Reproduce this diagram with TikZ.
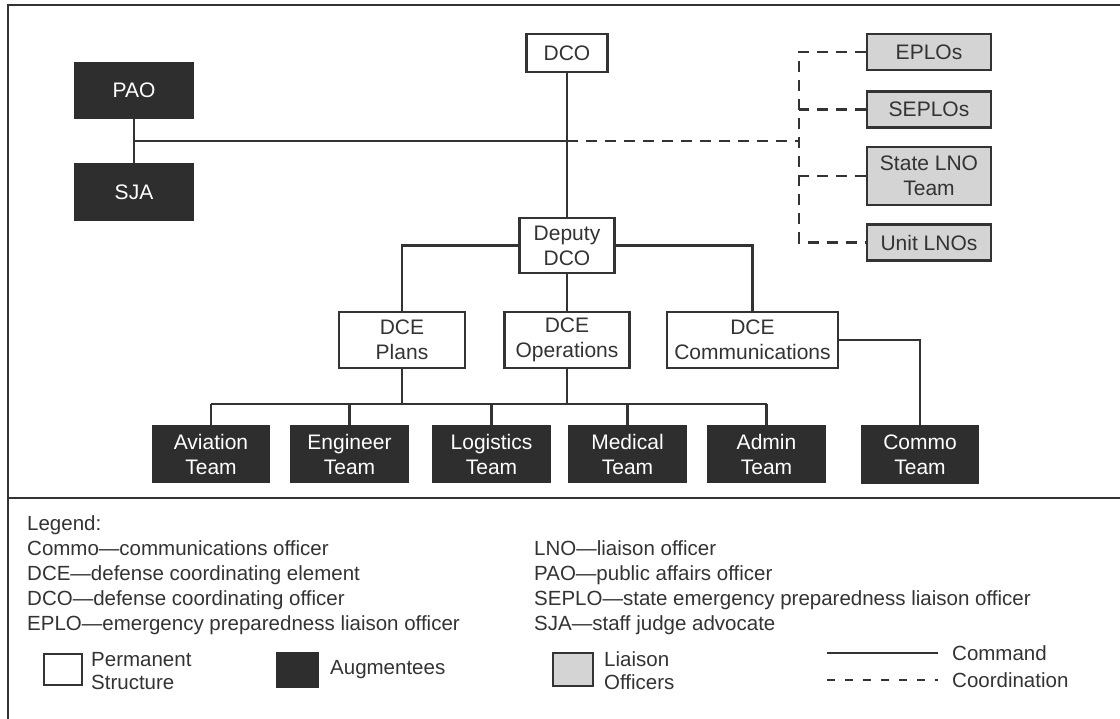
\documentclass[tikz,border=0pt]{standalone}
\usepackage{fontspec}
\setmainfont{Liberation Sans}
\usetikzlibrary{positioning}
\definecolor{ink}{HTML}{333333}
\definecolor{augfill}{HTML}{2E2E2E}
\definecolor{liafill}{HTML}{D4D4D4}
\begin{document}
\begin{tikzpicture}[x=1pt,y=-1pt,
	box/.style={draw=ink,line width=2.8pt,align=center,inner sep=0pt,text=ink,font=\fontsize{21}{25}\selectfont},
	perm/.style={box,fill=white},
	augm/.style={box,fill=augfill,draw=augfill,text=white},
	team/.style={augm,minimum width=116pt,minimum height=56pt},
	liai/.style={box,fill=liafill,minimum width=124pt,minimum height=36pt},
	cmd/.style={draw=ink,line width=2.8pt},
	coord/.style={draw=ink,line width=2.8pt,dash pattern=on 11pt off 8pt},
	legtext/.style={text=ink,font=\fontsize{20.5}{23}\selectfont,align=left,inner sep=0pt}]
	\useasboundingbox (0,0) rectangle (1120,719);
	\draw[ink,line width=2.4pt] (1120,5) -- (8,5) -- (8,719);
	\draw[ink,line width=2.4pt] (8,498) -- (1120,498);

	\node[perm,minimum width=81pt,minimum height=38pt] (dco) at (567,53) {DCO};
	\node[augm,minimum width=117pt,minimum height=55pt] (pao) at (134,90.5) {PAO};
	\node[augm,minimum width=117pt,minimum height=56pt] (sja) at (134,192) {SJA};
	\node[perm,minimum width=95pt,minimum height=55pt] (deputy) at (567,245.5) {Deputy\\DCO};
	\node[perm,minimum width=126pt,minimum height=56pt] (plans) at (402,340) {DCE\\Plans};
	\node[perm,minimum width=125pt,minimum height=56pt] (ops) at (567,340) {DCE\\Operations};
	\node[perm,minimum width=171pt,minimum height=56pt] (comms) at (752.5,340) {DCE\\Communications};

	\node[team] (aviation) at (211,454) {Aviation\\Team};
	\node[team] (engineer) at (349.5,454) {Engineer\\Team};
	\node[team] (logistics) at (491.5,454) {Logistics\\Team};
	\node[team] (medical) at (627.5,454) {Medical\\Team};
	\node[team] (admin) at (766.5,454) {Admin\\Team};
	\node[team] (commo) at (920,454.5) {Commo\\Team};

	\node[liai] (eplo) at (929,52) {EPLOs};
	\node[liai] (seplo) at (929,109.5) {SEPLOs};
	\node[liai,minimum height=58pt] (stlno) at (929,176) {State LNO\\Team};
	\node[liai] (unitlno) at (929,242.5) {Unit LNOs};

	\coordinate (cross) at (567,141);
	\coordinate (lbus) at (799,141);
	\coordinate (tbus) at (0,404);

	\draw[cmd] (pao) -- (sja);
	\draw[cmd] (dco) -- (deputy);
	\draw[cmd] (pao.south |- cross) -- (cross);
	\draw[coord] (cross) -- (lbus);
	\draw[coord] (eplo.west) -| (lbus) |- (unitlno.west);
	\draw[coord] (seplo.west) -- (seplo.west -| lbus);
	\draw[coord] (stlno.west) -- (stlno.west -| lbus);

	\draw[cmd] (deputy.west) -| (plans.north);
	\draw[cmd] (deputy.east) -| (comms.north);
	\draw[cmd] (deputy) -- (ops);
	\draw[cmd] (plans.south) -- (plans.south |- tbus);
	\draw[cmd] (ops.south) -- (ops.south |- tbus);
	\draw[cmd] (aviation.north |- tbus) -- (admin.north |- tbus);
	\foreach \t in {aviation,engineer,logistics,medical,admin}
		\draw[cmd] (\t.north) -- (\t.north |- tbus);
	\draw[cmd] (comms.east) -| (commo.north);

	\node[legtext,anchor=base west] (leg0) at (27,530) {Legend:};
	\node[legtext,anchor=base west] (leg1) at (27,555) {Commo—communications officer};
	\node[legtext,anchor=base west] (leg2) at (27,580) {DCE—defense coordinating element};
	\node[legtext,anchor=base west] (leg3) at (27,605) {DCO—defense coordinating officer};
	\node[legtext,anchor=base west] (leg4) at (27,630) {EPLO—emergency preparedness liaison officer};
	\node[legtext,anchor=base west] (leg5) at (534,555) {LNO—liaison officer};
	\node[legtext,anchor=base west] (leg6) at (534,580) {PAO—public affairs officer};
	\node[legtext,anchor=base west] (leg7) at (534,605) {SEPLO—state emergency preparedness liaison officer};
	\node[legtext,anchor=base west] (leg8) at (534,630) {SJA—staff judge advocate};

	\node[perm,line width=2.2pt,minimum width=38pt,minimum height=31pt] (kperm) at (63,669.5) {};
	\node[legtext,anchor=west] (kpermtx) at (91,671) {Permanent\\Structure};
	\node[augm,minimum width=41pt,minimum height=34pt] (kaug) at (297.5,670) {};
	\node[legtext,anchor=west] (kaugtx) at (330,670) {Augmentees};
	\node[liai,line width=2.2pt,minimum width=40pt,minimum height=33pt] (klia) at (573,669.5) {};
	\node[legtext,anchor=west] (kliatx) at (604,671) {Liaison\\Officers};
	\coordinate (kcmdA) at (827,653);
	\coordinate (kcmdB) at (938,653);
	\coordinate (kcoA) at (827,680);
	\coordinate (kcoB) at (938,680);
	\draw[ink,line width=2.2pt] (kcmdA) -- (kcmdB);
	\draw[ink,line width=2pt,dash pattern=on 8pt off 10pt] (kcoA) -- (kcoB);
	\node[legtext,anchor=west] (kcmdtx) at (952,653) {Command};
	\node[legtext,anchor=west] (kcotx) at (952,680) {Coordination};
\end{tikzpicture}
\end{document}
